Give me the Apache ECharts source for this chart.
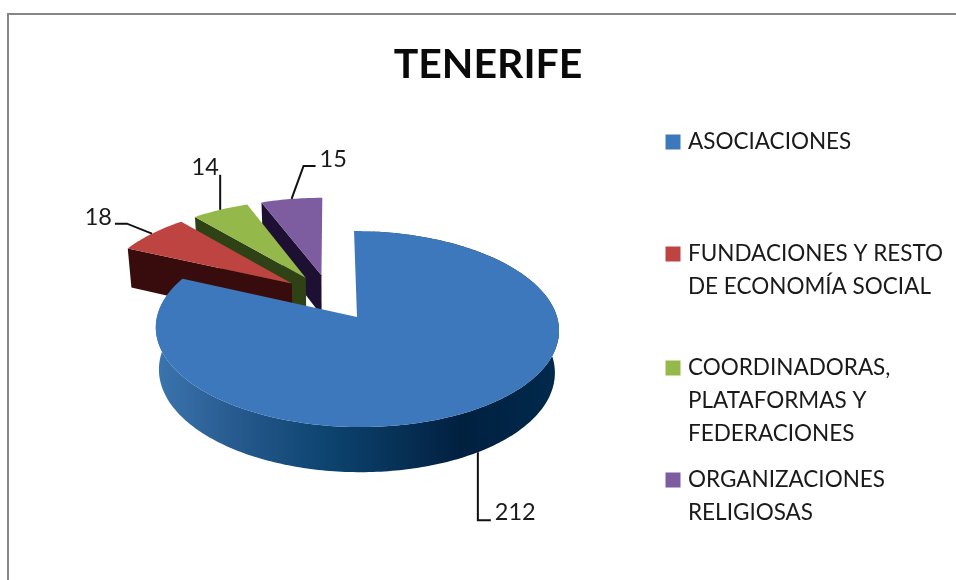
<!DOCTYPE html>
<html><head><meta charset="utf-8">
<style>html,body{margin:0;padding:0;background:#fff;overflow:hidden}#c{width:956px;height:580px}</style>
<script src="https://cdn.jsdelivr.net/npm/echarts@6/dist/echarts.min.js"></script>
</head><body><div id="c"></div>
<script>
var titleText = 'TENERIFE';
var categories = ['ASOCIACIONES', 'FUNDACIONES Y RESTO DE ECONOMÍA SOCIAL', 'COORDINADORAS, PLATAFORMAS Y FEDERACIONES', 'ORGANIZACIONES RELIGIOSAS'];
var values = [212, 18, 14, 15];
var legendLabels = ['ASOCIACIONES', 'FUNDACIONES Y RESTO\nDE ECONOMÍA SOCIAL', 'COORDINADORAS,\nPLATAFORMAS Y\nFEDERACIONES', 'ORGANIZACIONES\nRELIGIOSAS'];
var topColors = ['#3c78bb', '#bd4440', '#95b84b', '#7d5ca0'];
var wallColors = ['#0f4570', '#380c0c', '#2f4215', '#1e1033'];
var legendTops = [125, 237, 351, 463];
var legendLines = [1, 2, 3, 2];
var labelOffsets = [[0, 68, 'v'], [-25, -10, 'h'], [0, -35, 'n'], [12, -33, 'h']];
var labelGaps = [[13, 0], [-12, 0], [0, -7], [12, 0]];

var total = values.reduce(function (a, b) { return a + b; }, 0);
var OX = 330, OY = 297.2, RX = 195, RY = 91.7, K = 0.12, EXPLODE = 0.25;
var FONT = 'Lato';

function project(u, v) {
  var s = 1 / (1 + K * v);
  return [OX + RX * u * s, OY - RY * v * s];
}
function lower(p, v) {
  return [OX + (p[0] - OX) * 0.982, p[1] + 41 - 3.4 * v];
}
function sliceGeometry(index) {
  var before = 0;
  for (var i = 0; i < index; i++) before += values[i];
  var a0 = before / total * Math.PI * 2;
  var a1 = (before + values[index]) / total * Math.PI * 2;
  var mid = (a0 + a1) / 2;
  var cu = EXPLODE * Math.sin(mid), cv = EXPLODE * Math.cos(mid);
  var rimTop = [], rimLow = [];
  var steps = Math.max(4, Math.ceil((a1 - a0) * 180 / Math.PI));
  for (var j = 0; j <= steps; j++) {
    var a = a0 + (a1 - a0) * j / steps;
    var u = cu + Math.sin(a), v = cv + Math.cos(a);
    var p = project(u, v);
    rimTop.push(p);
    rimLow.push(lower(p, v));
  }
  var apex = project(cu, cv);
  var apexLow = lower(apex, cv);
  var midU = cu + Math.sin(mid), midV = cv + Math.cos(mid);
  return { rimTop: rimTop, rimLow: rimLow, apex: apex, apexLow: apexLow, midTop: project(midU, midV), midLow: lower(project(midU, midV), midV) };
}

var blueWall = new echarts.graphic.LinearGradient(159, 0, 556, 0, [
  { offset: 0, color: '#3a74ad' },
  { offset: 0.2, color: '#26598d' },
  { offset: 0.42, color: '#0d4470' },
  { offset: 0.76, color: '#012040' },
  { offset: 1, color: '#00294b' }
], true);

function renderSlice(params, api) {
  var idx = params.seriesIndex;
  var g = sliceGeometry(idx);
  var children = [];
  if (idx === 0) {
    children.push({
      type: 'polygon', shape: { points: g.rimTop.slice(6).concat(g.rimLow.slice(6).reverse()) },
      style: { fill: blueWall }
    });
  } else {
    children.push({
      type: 'polygon',
      shape: { points: [g.rimTop[0], g.apex, g.apexLow, g.rimLow[0]] },
      style: { fill: wallColors[idx] }
    });
  }
  children.push({
    type: 'polygon', shape: { points: [g.apex].concat(g.rimTop) },
    style: { fill: api.visual('color') }
  });
  var anchor = idx === 0 ? [g.midLow[0], g.midLow[1]] : g.midTop;
  var off = labelOffsets[idx], gap = labelGaps[idx];
  var knee = [anchor[0] + off[0], anchor[1] + off[1]];
  var pts;
  if (off[2] === 'n') {
    pts = [anchor, knee];
  } else {
    pts = [anchor, knee, [knee[0] + gap[0], knee[1]]];
  }
  children.push({ type: 'polyline', shape: { points: pts }, style: { stroke: '#111', lineWidth: 2, fill: null } });
  var end = pts[pts.length - 1];
  var alignMap = gap[0] > 0 ? 'left' : gap[0] < 0 ? 'right' : 'center';
  children.push({
    type: 'text',
    style: {
      x: end[0] + (gap[0] > 0 ? 4 : gap[0] < 0 ? -3 : -15),
      y: end[1] + (gap[0] === 0 ? -7 : (idx === 1 ? -6 : (idx === 3 ? -7 : -8))),
      text: String(api.value(0)),
      fill: '#1a1a1a', font: '23.5px ' + FONT, align: alignMap, verticalAlign: 'middle'
    }
  });
  return { type: 'group', children: children };
}

function squareIcon(lines) {
  var h = lines * 33;
  return 'path://M0.5 9.5H15.5V24.5H0.5Z M0 0H0 M18 ' + h + 'H18';
}

var series = categories.map(function (name, i) {
  return {
    type: 'custom', name: name, coordinateSystem: 'none',
    renderItem: renderSlice, data: [values[i]], itemStyle: { color: topColors[i] },
    animation: false, silent: true
  };
});
// draw back slices first: ASOCIACIONES stays on top
series[0].z = 20; series[1].z = 13; series[2].z = 12; series[3].z = 11;

var legends = categories.map(function (name, i) {
  return {
    data: [name], left: 665, top: legendTops[i], orient: 'vertical', padding: 0,
    itemWidth: 18, itemHeight: legendLines[i] * 33, itemGap: 0,
    icon: squareIcon(legendLines[i]), selectedMode: false,
    formatter: function () { return legendLabels[i]; },
    textStyle: { fontFamily: FONT, fontSize: 22.5, color: '#1a1a1a', lineHeight: 33 }
  };
});

var chart = echarts.init(document.getElementById('c'), null, { renderer: 'canvas' });
chart.setOption({
  backgroundColor: '#fff', animation: false,
  title: { text: titleText, left: 488, top: 65, textAlign: 'center', textVerticalAlign: 'middle', padding: 0,
    textStyle: { fontFamily: FONT, fontWeight: 'bold', fontSize: 41, color: '#0a0a0a' } },
  graphic: [{ type: 'rect', z: -1, silent: true, shape: { x: 8, y: 14, width: 1000, height: 620 }, style: { fill: '#fff', stroke: '#868686', lineWidth: 2 } }],
  legend: legends,
  series: series
});
</script></body></html>
